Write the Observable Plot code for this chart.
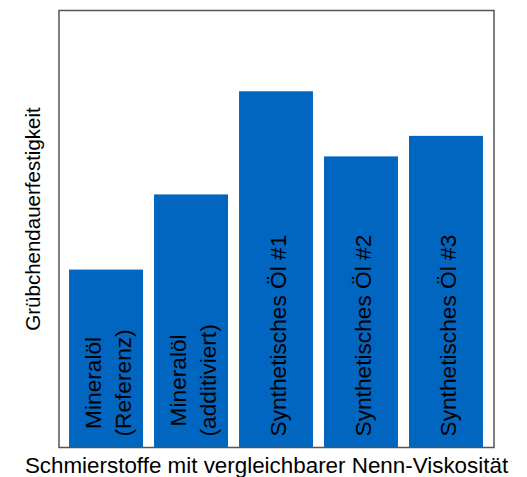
<!DOCTYPE html>
<html>
<head>
<meta charset="utf-8">
<script src="https://cdn.jsdelivr.net/npm/d3@7"></script>
<script src="https://cdn.jsdelivr.net/npm/@observablehq/plot@0.6"></script>
<style>
  html, body { margin: 0; padding: 0; background: #fff; }
</style>
</head>
<body>
<div id="chart"></div>
<script>
const categories = [
  "Mineralöl\n(Referenz)",
  "Mineralöl\n(additiviert)",
  "Synthetisches Öl #1",
  "Synthetisches Öl #2",
  "Synthetisches Öl #3"
];
const values = [40.6, 57.8, 81.4, 66.5, 71.2];
const yLabel = "Grübchendauerfestigkeit";
const xLabel = "Schmierstoffe mit vergleichbarer Nenn-Viskosität";

const data = categories.map((c, i) => ({category: c, value: values[i]}));

const chart = Plot.plot({
  width: 527,
  height: 477,
  marginTop: 10,
  marginBottom: 30,
  marginLeft: 58.5,
  marginRight: 33.5,
  style: {fontFamily: "'Liberation Sans', Arial, sans-serif", background: "#fff", color: "#000"},
  x: {domain: categories, paddingInner: 0.13, paddingOuter: 0.124, round: false, axis: null},
  y: {domain: [0, 100], axis: null},
  marks: [
    Plot.barY(data, {x: "category", y: "value", fill: "#0066c0"}),
    Plot.frame({stroke: "#555", strokeWidth: 1.5}),
    Plot.text(data, {
      x: "category",
      text: "category",
      frameAnchor: "bottom",
      rotate: -90,
      textAnchor: "middle",
      lineAnchor: "middle",
      lineHeight: 1.33,
      fontSize: 22.7,
      fill: "#000",
      className: "barlabel"
    }),
    Plot.text([yLabel], {
      text: d => d,
      frameAnchor: "left",
      rotate: -90,
      textAnchor: "middle",
      lineAnchor: "middle",
      dx: -26,
      dy: -10,
      fontSize: 20.5,
      fill: "#000"
    }),
    Plot.text([xLabel], {
      text: d => d,
      frameAnchor: "bottom",
      textAnchor: "middle",
      dy: 18,
      dx: -10,
      lineAnchor: "middle",
      fontSize: 22.4,
      fill: "#000"
    })
  ]
});

document.getElementById("chart").append(chart);

// Place each bar label so its longest line starts just above the bar base,
// with shorter lines centred on the longest one.
const gap = 11;
d3.select(chart).selectAll(".barlabel text").each(function() {
  const t = this;
  const spans = t.querySelectorAll("tspan");
  let L = 0;
  if (spans.length) spans.forEach(s => { L = Math.max(L, s.getComputedTextLength()); });
  else L = t.getComputedTextLength();
  const tr = t.getAttribute("transform") || "";
  const m = tr.match(/translate\(([-\d.e]+),\s*([-\d.e]+)\)/);
  if (m) {
    const x = +m[1], y = +m[2];
    t.setAttribute("transform", tr.replace(m[0], `translate(${x},${y - gap - L / 2})`));
  }
});
</script>
</body>
</html>
